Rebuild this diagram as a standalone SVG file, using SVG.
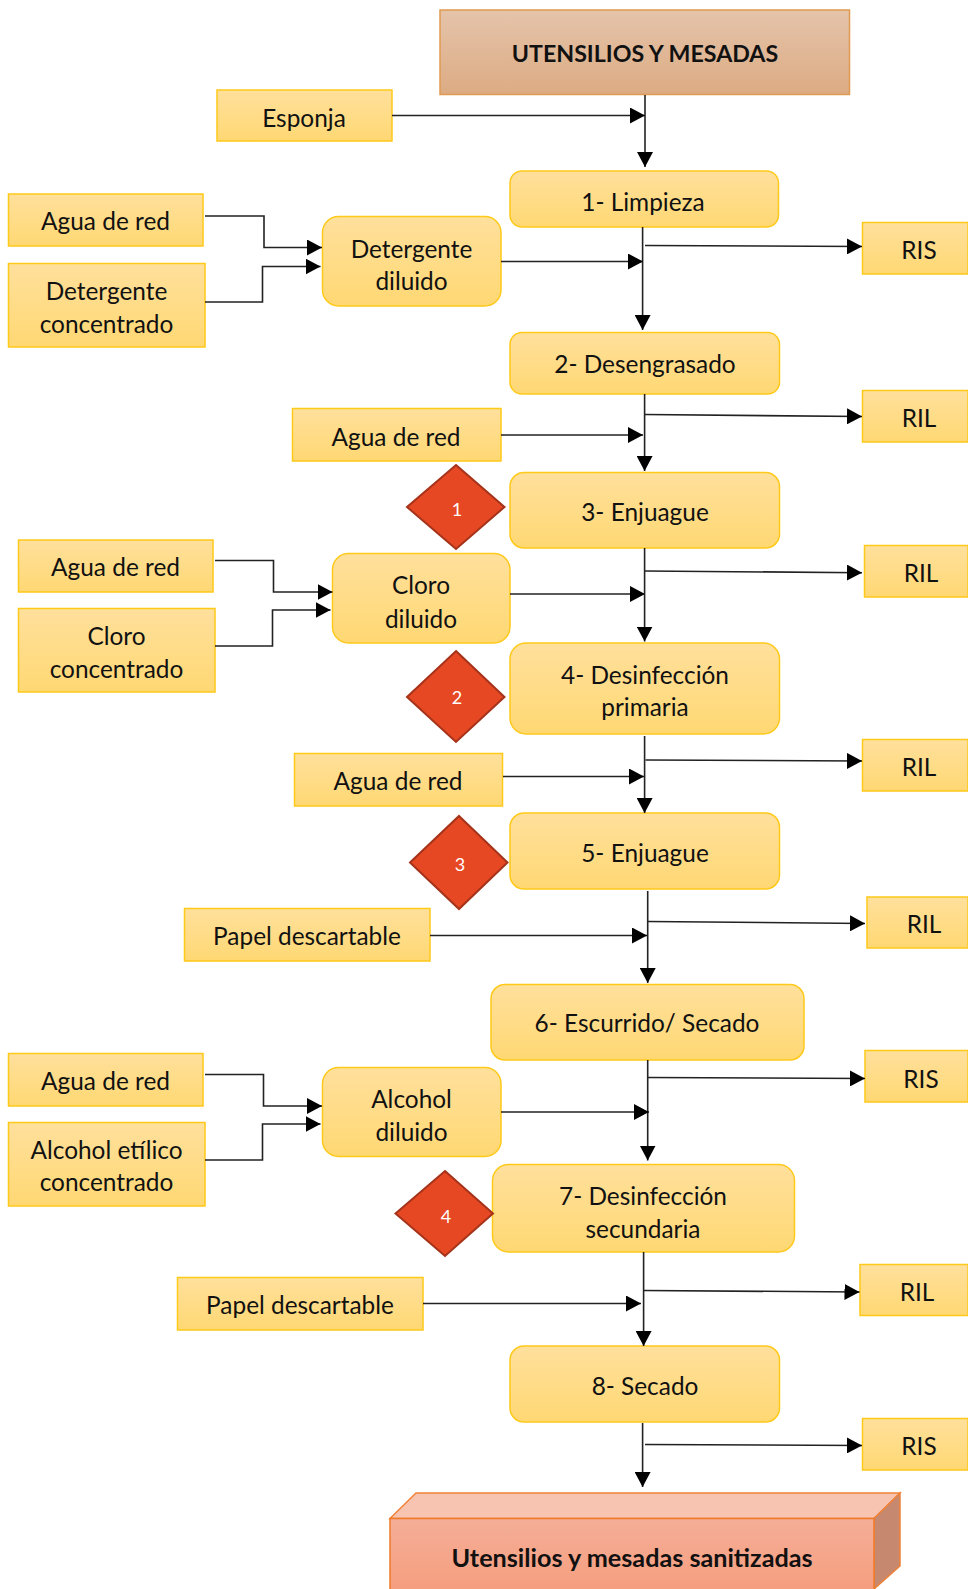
<svg xmlns="http://www.w3.org/2000/svg" width="968" height="1589" viewBox="0 0 968 1589">
<style>
text{font-family:"Lato","Liberation Sans",sans-serif;font-size:24.4px;fill:#111;text-anchor:middle;transform:translateY(1px)}
.b{font-weight:700;font-size:23.2px;transform:none}
.e{font-weight:700;font-size:25.2px;transform:none}
.w{fill:#fff;font-size:18px;transform:none}
.y{fill:url(#gy);stroke:#FFC91A;stroke-width:1.5}
.d{fill:#E64823;stroke:#A5331A;stroke-width:2}
.c path{fill:none;stroke:#222;stroke-width:1.6;marker-end:url(#a)}
</style>
<defs>
<linearGradient id="gy" x1="0" y1="0" x2="0" y2="1"><stop offset="0" stop-color="#FFE09C"/><stop offset="1" stop-color="#FFD873"/></linearGradient>
<linearGradient id="gt" x1="0" y1="0" x2="0" y2="1"><stop offset="0" stop-color="#E5C4AA"/><stop offset="1" stop-color="#DCAB83"/></linearGradient>
<linearGradient id="gf" x1="0" y1="0" x2="0" y2="1"><stop offset="0" stop-color="#F4AE98"/><stop offset="1" stop-color="#F69E7E"/></linearGradient>
<marker id="a" markerUnits="userSpaceOnUse" markerWidth="16" markerHeight="16" refX="15" refY="8" orient="auto"><path d="M0 0L15 8L0 16Z" fill="#000"/></marker>
</defs>
<rect width="968" height="1589" fill="#fff"/>
<g id="n0"><rect x="440" y="10" width="409.500" height="84.500" fill="url(#gt)" stroke="#E09A50" stroke-width="1.500"/><text class="b" x="645" y="62">UTENSILIOS Y MESADAS</text></g>
<g id="n1"><rect class="y" x="217" y="90" width="175" height="51"/><text x="304" y="126">Esponja</text></g>
<g id="n2"><rect class="y" x="510" y="171" width="268.500" height="56" rx="12"/><text x="643" y="210">1- Limpieza</text></g>
<g id="n3"><rect class="y" x="8.500" y="194" width="194.500" height="52"/><text x="105.500" y="229">Agua de red</text></g>
<g id="n4"><rect class="y" x="8.500" y="263.500" width="196.500" height="83.500"/><text x="106.500" y="299">Detergente</text><text x="106.500" y="332">concentrado</text></g>
<g id="n5"><rect class="y" x="322.500" y="216.500" width="178.500" height="89.500" rx="16"/><text x="411.500" y="257">Detergente</text><text x="411.500" y="289">diluido</text></g>
<g id="n6"><rect class="y" x="862.500" y="222.500" width="105.500" height="51.500"/><text x="919" y="258">RIS</text></g>
<g id="n7"><rect class="y" x="510" y="332.500" width="269.500" height="61.500" rx="12"/><text x="645" y="372">2- Desengrasado</text></g>
<g id="n8"><rect class="y" x="862.500" y="390.500" width="105.500" height="51.500"/><text x="919" y="426">RIL</text></g>
<g id="n9"><rect class="y" x="292.500" y="408.500" width="208.500" height="52.500"/><text x="396" y="445">Agua de red</text></g>
<g id="n10"><polygon class="d" points="456,465 504.500,507 456,549 407,507"/><text class="w" x="457" y="516">1</text></g>
<g id="n11"><rect class="y" x="510" y="472.500" width="269.500" height="75.500" rx="14"/><text x="645" y="520">3- Enjuague</text></g>
<g id="n12"><rect class="y" x="18.500" y="540" width="194.500" height="52"/><text x="115.500" y="575">Agua de red</text></g>
<g id="n13"><rect class="y" x="18.500" y="608.500" width="196.500" height="83.500"/><text x="116.500" y="644">Cloro</text><text x="116.500" y="677">concentrado</text></g>
<g id="n14"><rect class="y" x="332.500" y="553.500" width="177.500" height="89.500" rx="16"/><text x="421" y="593">Cloro</text><text x="421" y="627">diluido</text></g>
<g id="n15"><rect class="y" x="864.500" y="545.500" width="103.500" height="51.500"/><text x="921" y="581">RIL</text></g>
<g id="n16"><rect class="y" x="510" y="643" width="269.500" height="91" rx="16"/><text x="645" y="683">4- Desinfección</text><text x="645" y="715">primaria</text></g>
<g id="n17"><polygon class="d" points="456,651 504.500,697 456,742 407,697"/><text class="w" x="457" y="704">2</text></g>
<g id="n18"><rect class="y" x="294.500" y="753.500" width="208" height="52.500"/><text x="398" y="789">Agua de red</text></g>
<g id="n19"><rect class="y" x="862.500" y="739.500" width="105.500" height="51.500"/><text x="919" y="775">RIL</text></g>
<g id="n20"><rect class="y" x="510" y="813" width="269.500" height="76" rx="14"/><text x="645" y="861">5- Enjuague</text></g>
<g id="n21"><polygon class="d" points="459,816 507.500,862.500 459,909 410,862.500"/><text class="w" x="460" y="871">3</text></g>
<g id="n22"><rect class="y" x="184.500" y="908.500" width="245.500" height="52.500"/><text x="307" y="944">Papel descartable</text></g>
<g id="n23"><rect class="y" x="867" y="897" width="101" height="51"/><text x="924" y="932">RIL</text></g>
<g id="n24"><rect class="y" x="491" y="984.500" width="313" height="75.500" rx="14"/><text x="647" y="1031">6- Escurrido/ Secado</text></g>
<g id="n25"><rect class="y" x="865" y="1050.500" width="103" height="51.500"/><text x="921" y="1087">RIS</text></g>
<g id="n26"><rect class="y" x="8.500" y="1053.500" width="194.500" height="52.500"/><text x="105.500" y="1089">Agua de red</text></g>
<g id="n27"><rect class="y" x="8.500" y="1122.500" width="196.500" height="83.500"/><text x="106.500" y="1158">Alcohol etílico</text><text x="106.500" y="1190">concentrado</text></g>
<g id="n28"><rect class="y" x="322.500" y="1067.500" width="178.500" height="89" rx="16"/><text x="411.500" y="1107">Alcohol</text><text x="411.500" y="1140">diluido</text></g>
<g id="n29"><rect class="y" x="492.500" y="1164.500" width="302" height="87.500" rx="16"/><text x="643" y="1204">7- Desinfección</text><text x="643" y="1237">secundaria</text></g>
<g id="n30"><polygon class="d" points="445,1171 493,1213.500 445,1256 395.500,1213.500"/><text class="w" x="446" y="1223">4</text></g>
<g id="n31"><rect class="y" x="177.500" y="1277.500" width="245.500" height="52.500"/><text x="300" y="1313">Papel descartable</text></g>
<g id="n32"><rect class="y" x="860" y="1264.500" width="108" height="51"/><text x="917" y="1300">RIL</text></g>
<g id="n33"><rect class="y" x="510" y="1346" width="269.500" height="76" rx="14"/><text x="645" y="1394">8- Secado</text></g>
<g id="n34"><rect class="y" x="862.500" y="1418.500" width="105.500" height="51.500"/><text x="919" y="1454">RIS</text></g>
<g id="n35">
<polygon points="390,1518.500 416,1493 900,1493 874,1518.500" fill="#F7C4B2" stroke="#F08238" stroke-width="1.500"/>
<polygon points="874,1518.500 900,1493 900,1566 874,1589" fill="#C6896F" stroke="#F08238" stroke-width="1.500"/>
<rect x="390" y="1518.500" width="484" height="72" fill="url(#gf)" stroke="#F07A28" stroke-width="1.500"/>
<text class="e" x="632" y="1567">Utensilios y mesadas sanitizadas</text></g>
<g id="connectors" class="c">
<path d="M645 95V167"/><path d="M392 115.500H645"/>
<path d="M642.600 227V330"/><path d="M645 245.500L862 246.500"/><path d="M501 261.500H643"/>
<path d="M205 216H264V247.500H322"/><path d="M205 302H262.500V266.500H320.500"/>
<path d="M644.600 394V471"/><path d="M645 414.500L862 416.500"/><path d="M501 435H643"/>
<path d="M215 560.500H273.500V592H332.500"/><path d="M215 646H272.500V610H330.500"/><path d="M510 594H645"/>
<path d="M644.600 548V641.500"/><path d="M645 571L862 572.700"/>
<path d="M644.600 736V813"/><path d="M645.500 760L862 761"/><path d="M503 776.500H644"/>
<path d="M647.700 891V983"/><path d="M648 921.500L865 923.500"/><path d="M430 935.500H647"/>
<path d="M647.700 1060V1160.500"/><path d="M648 1077.500L865 1078.500"/><path d="M501 1112H649"/>
<path d="M205 1074.500H263.500V1106H322"/><path d="M205 1160H262.500V1124H320.500"/>
<path d="M643.600 1252V1346"/><path d="M643.600 1290.500L859.500 1292"/><path d="M423 1303.500H641"/>
<path d="M642.600 1423V1487"/><path d="M645 1444.500L862 1445.500"/>
</g>
</svg>
